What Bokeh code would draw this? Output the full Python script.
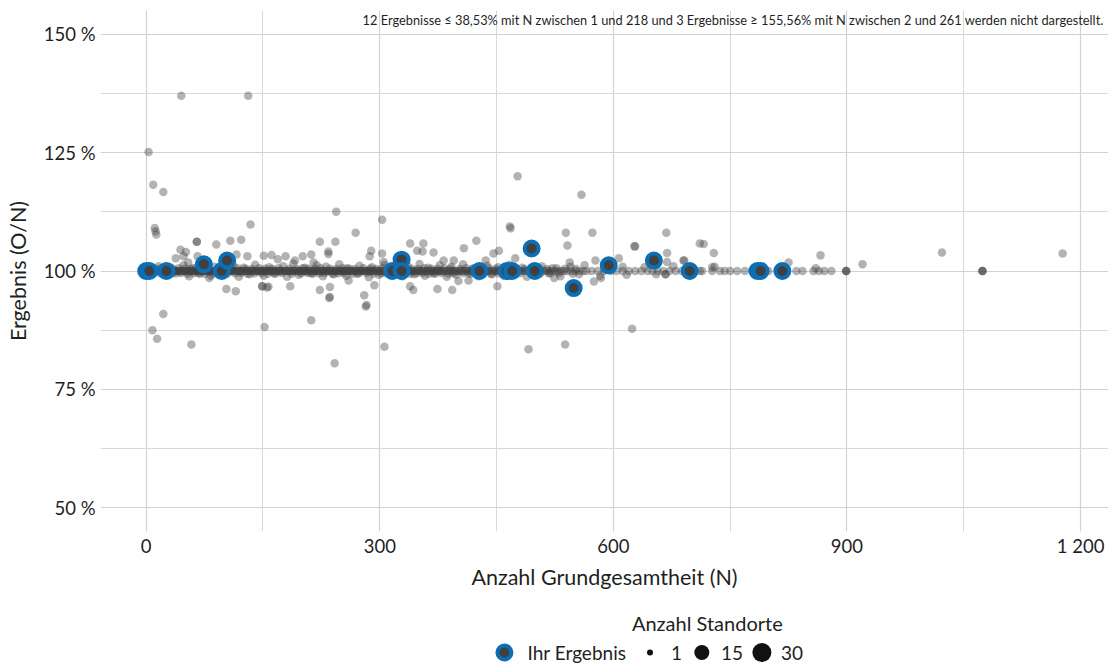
from bokeh.plotting import figure
from bokeh.layouts import column
from bokeh.models import Range1d, SingleIntervalTicker, Label
from bokeh.embed import file_html
from bokeh.resources import INLINE
from bokeh.core.properties import value

FONT = "Lato"
TXT = "#1f1f1f"

# ---------------- data ----------------
x_ticks = [0, 300, 600, 900, 1200]
x_tick_labels = ["0", "300", "600", "900", "1 200"]
y_ticks = [50, 75, 100, 125, 150]
y_tick_labels = ["50 %", "75 %", "100 %", "125 %", "150 %"]

# gray points lying exactly on 100 %
band_n = [1, 2, 3, 4, 6, 7, 8, 10, 11, 13, 14, 15, 17, 18, 20, 21, 23, 24, 26, 27, 29, 30, 32, 33,
          35, 36, 38, 40, 41, 43, 44, 46, 47, 49, 51, 52, 54, 55, 57, 58, 60, 62, 63, 65, 66, 68,
          70, 71, 73, 74, 76, 78, 79, 81, 82, 84, 86, 87, 89, 90, 92, 94, 95, 97, 98, 100, 102,
          103, 105, 107, 108, 110, 111, 113, 115, 116, 118, 120, 121, 123, 124, 126, 128, 129,
          131, 133, 134, 136, 137, 139, 141, 142, 144, 146, 147, 149, 150, 152, 154, 155, 157,
          159, 160, 162, 163, 165, 167, 168, 170, 172, 173, 175, 177, 178, 180, 181, 183, 185,
          186, 188, 190, 191, 193, 195, 196, 198, 200, 201, 203, 205, 206, 208, 210, 211, 213,
          215, 216, 218, 220, 221, 223, 225, 226, 228, 230, 232, 233, 235, 237, 238, 240, 242,
          243, 245, 247, 249, 250, 252, 254, 255, 257, 259, 261, 262, 264, 266, 268, 269, 271,
          273, 275, 276, 278, 280, 282, 284, 285, 287, 289, 291, 292, 294, 296, 298, 300, 301,
          303, 305, 307, 309, 310, 312, 314, 316, 318, 320, 322, 323, 325, 327, 329, 331, 333,
          335, 337, 338, 340, 342, 344, 346, 348, 350, 352, 354, 356, 358, 360, 362, 364, 366,
          368, 370, 372, 374, 376, 378, 380, 382, 384, 387, 389, 391, 393, 395, 397, 400, 402,
          404, 406, 409, 411, 413, 416, 418, 420, 423, 425, 428, 430, 432, 435, 437, 440, 442,
          445, 448, 450, 453, 455, 458, 461, 464, 466, 469, 472, 475, 478, 481, 484, 487, 490,
          493, 496, 500, 503, 506, 510, 514, 517, 521, 525, 529, 533, 537, 541, 546, 551, 556,
          561, 565, 572, 580, 588, 597, 604, 612, 620, 628, 636, 644, 650, 657, 664, 672, 680,
          688, 695, 703, 711, 714, 727, 737, 743, 750, 759, 769, 799, 835, 843, 857, 864, 871,
          880, 899, 899, 899, 1074, 1074, 1074]
band_pct = [100.0] * len(band_n)

# gray points hugging the 100 % line (thick part of the band)
hug_hi_n = [5, 12, 19, 27, 35, 42, 50, 57, 64, 72, 80, 93, 101, 109, 117, 128, 136, 145, 153, 162,
            170, 184, 193, 201, 209, 217, 224, 236, 244, 252, 261, 268, 279, 288, 296, 304, 313,
            326, 334, 341, 349, 357, 366, 374, 383, 391, 403, 411, 419, 431, 440, 449, 458, 466,
            476, 486, 496, 505, 515, 527, 538, 552]
hug_hi_pct = [100.5, 100.4, 100.6, 100.5, 100.4, 100.6, 100.5, 100.4, 100.6, 100.5, 100.4, 100.6,
              100.5, 100.4, 100.6, 100.5, 100.4, 100.6, 100.5, 100.4, 100.6, 100.5, 100.4, 100.6,
              100.5, 100.4, 100.6, 100.5, 100.4, 100.6, 100.5, 100.4, 100.6, 100.5, 100.4, 100.6,
              100.5, 100.4, 100.6, 100.5, 100.4, 100.6, 100.5, 100.4, 100.6, 100.5, 100.4, 100.6,
              100.5, 100.4, 100.6, 100.5, 100.4, 100.6, 100.5, 100.4, 100.6, 100.5, 100.4, 100.6,
              100.5, 100.4]
hug_lo_n = [9, 17, 25, 34, 45, 53, 61, 67, 75, 85, 91, 104, 114, 122, 130, 139, 148, 156, 164, 174,
            187, 199, 207, 214, 222, 229, 239, 247, 254, 265, 273, 283, 292, 302, 308, 318, 324,
            332, 339, 347, 355, 363, 369, 379, 388, 395, 407, 417, 424, 434, 443, 452, 462, 471,
            480, 494, 506, 519, 530, 548]
hug_lo_pct = [99.5, 99.6, 99.4, 99.5, 99.6, 99.4, 99.5, 99.6, 99.4, 99.5, 99.6, 99.4, 99.5, 99.6,
              99.4, 99.5, 99.6, 99.4, 99.5, 99.6, 99.4, 99.5, 99.6, 99.4, 99.5, 99.6, 99.4, 99.5,
              99.6, 99.4, 99.5, 99.6, 99.4, 99.5, 99.6, 99.4, 99.5, 99.6, 99.4, 99.5, 99.6, 99.4,
              99.5, 99.6, 99.4, 99.5, 99.6, 99.4, 99.5, 99.6, 99.4, 99.5, 99.6, 99.4, 99.5, 99.6,
              99.4, 99.5, 99.6, 99.4]

# gray points just above / below 100 %
near_n = [16, 31, 48, 60, 77, 88, 112, 125, 140, 158, 176, 189, 204, 219, 231, 248, 258, 274,
          290, 306, 320, 336, 351, 362, 377, 392, 407, 421, 438, 452, 467, 483, 508, 522, 545,
          563, 590, 612, 640, 677, 730, 815,
          22, 39, 55, 69, 83, 97, 119, 133, 151, 166, 181, 196, 212, 227, 241, 257, 271, 286,
          299, 314, 329, 344, 358, 371, 386, 398, 414, 427, 444, 459, 474, 489, 502, 517, 532,
          556, 583, 617, 655, 667, 700]
near_pct = [101.0, 100.8, 101.2, 100.6, 101.5, 100.9, 101.1, 100.7, 101.3, 100.8, 101.0, 101.6,
            100.7, 101.2, 100.9, 101.4, 100.6, 101.1, 100.8, 101.3, 100.6, 101.0, 101.5, 100.7,
            101.2, 100.9, 101.4, 100.6, 101.1, 100.8, 101.3, 100.7, 101.0, 100.6, 100.9, 101.2,
            100.7, 100.9, 100.8, 101.0, 100.9, 100.6,
            99.2, 99.5, 98.9, 99.4, 99.0, 99.5, 98.8, 99.3, 99.0, 99.4, 98.8, 99.2, 99.5, 98.9,
            99.3, 99.0, 99.4, 98.7, 99.2, 99.5, 98.9, 99.3, 99.0, 99.4, 98.8, 99.2, 99.5, 98.9,
            99.3, 99.0, 99.4, 98.8, 99.2, 99.5, 98.9, 99.3, 99.0, 99.2, 99.3, 99.3, 99.4]

# scattered gray results
out_n = [45, 131, 3, 9, 22, 11, 12, 13, 134, 244, 303, 477, 559, 539, 668, 467, 716, 729, 627,
         1022, 920, 1177, 866, 825, 691, 727, 860,
         44, 65, 65, 54, 66, 90, 108, 122, 116, 130, 151, 161, 169, 179, 191, 201, 212, 215, 223,
         243, 234, 234, 269, 289, 287, 303, 305, 38, 48, 51,
         339, 356, 348, 355, 369, 408, 424, 382, 395, 436, 446, 453, 468, 474, 541, 544, 573, 577,
         628, 607, 669, 669, 690, 711,
         8, 14, 22, 58, 152, 212, 235, 282, 242, 306, 491, 538, 624,
         103, 115, 81, 149, 149, 185, 223, 236, 236, 260, 280, 283, 293, 339, 343, 155, 157,
         374, 393, 401, 414, 451, 524, 575, 584, 667]
out_pct = [137.0, 137.0, 125.1, 118.2, 116.7, 109.1, 108.4, 107.7, 109.8, 112.5, 110.8, 120.0,
           116.1, 108.1, 108.1, 109.4, 105.7, 103.8, 105.2, 103.9, 101.4, 103.7, 103.3, 101.8,
           102.2, 100.8, 100.6,
           104.5, 106.2, 106.2, 101.8, 103.1, 105.6, 106.4, 106.6, 103.5, 103.1, 103.2, 103.4,
           102.5, 103.1, 102.2, 103.1, 103.5, 101.8, 106.2, 106.2, 104.1, 103.6, 108.1, 104.3,
           103.1, 103.7, 101.9, 102.7, 103.1, 104.0,
           105.8, 105.8, 104.3, 104.1, 103.9, 104.8, 106.4, 102.2, 102.2, 102.2, 103.7, 104.3,
           109.0, 102.7, 105.4, 101.8, 108.1, 102.2, 105.2, 102.7, 103.8, 101.9, 102.2, 105.8,
           87.5, 85.7, 90.9, 84.5, 88.2, 89.6, 94.3, 92.5, 80.5, 84.0, 83.5, 84.5, 87.8,
           96.2, 95.7, 98.5, 96.8, 96.8, 96.8, 96.0, 96.6, 94.5, 98.0, 94.9, 92.8, 97.0, 96.8,
           96.0, 96.5, 96.7,
           96.2, 96.0, 97.9, 98.0, 96.8, 98.5, 97.8, 98.5, 99.3]

# "Ihr Ergebnis" (own results)
own_n = [0, 4, 26, 74, 97, 104, 316, 328, 328, 428, 463, 470, 495, 499, 549, 594, 652, 698,
         785, 789, 817]
own_pct = [100.0, 100.0, 100.0, 101.4, 100.0, 102.2, 100.0, 102.4, 100.0, 100.0, 100.0, 100.0,
           104.75, 100.0, 96.4, 101.2, 102.2, 100.0, 100.0, 100.0, 100.0]

note = ("12 Ergebnisse \u2264 38,53% mit N zwischen 1 und 218 und 3 Ergebnisse \u2265 155,56% "
        "mit N zwischen 2 und 261 werden nicht dargestellt.")

legend_title = "Anzahl Standorte"
legend_labels = ["Ihr Ergebnis", "1", "15", "30"]
legend_sizes = [6, 15, 19]

# ---------------- main plot ----------------
p = figure(width=1108, height=592, output_backend="svg", toolbar_location=None,
           x_range=Range1d(-58.7, 1235.9), y_range=Range1d(45, 155),
           min_border_left=100, min_border_right=0, min_border_top=10, min_border_bottom=57)
p.outline_line_color = None

p.xaxis.ticker = SingleIntervalTicker(interval=300, num_minor_ticks=2)
p.yaxis.ticker = SingleIntervalTicker(interval=25, num_minor_ticks=2)
p.xaxis.major_label_overrides = dict(zip(x_ticks, x_tick_labels))
p.yaxis.major_label_overrides = dict(zip(y_ticks, y_tick_labels))

for ax in (p.xaxis, p.yaxis):
    ax.axis_line_color = None
    ax.major_tick_line_color = None
    ax.minor_tick_line_color = None
    ax.major_tick_out = 0
    ax.major_tick_in = 0
    ax.minor_tick_out = 0
    ax.minor_tick_in = 0
    ax.major_label_text_font = FONT
    ax.major_label_text_font_size = "18.5px"
    ax.major_label_text_color = TXT
    ax.axis_label_text_font = FONT
    ax.axis_label_text_font_size = "21.5px"
    ax.axis_label_text_font_style = "normal"
    ax.axis_label_text_color = TXT

p.xaxis.axis_label = "Anzahl Grundgesamtheit (N)"
p.yaxis.axis_label = "Ergebnis (O/N)"
p.xaxis.major_label_standoff = 3
p.xaxis.axis_label_standoff = 4
p.yaxis.major_label_standoff = 5
p.yaxis.axis_label_standoff = 10

for g in (p.xgrid, p.ygrid):
    g.grid_line_color = "#d2d2d2"
    g.grid_line_width = 1.2
    g.minor_grid_line_color = "#d9d9d9"
    g.minor_grid_line_width = 1

gray_n = band_n + hug_hi_n + hug_lo_n + near_n + out_n
gray_pct = band_pct + hug_hi_pct + hug_lo_pct + near_pct + out_pct
p.scatter(x=gray_n, y=gray_pct, size=8.5, fill_color="#404040", fill_alpha=0.4, line_color=None)
p.scatter(x=own_n, y=own_pct, size=14, fill_color="#404040", line_color="#0c6eb5", line_width=4)

p.add_layout(Label(x=p.x_range.end, y=p.y_range.end, text=note, text_align="right",
                   text_baseline="top", x_offset=-5, y_offset=-1, text_font=FONT,
                   text_font_size="12.8px", text_color=TXT))

# ---------------- legend strip ----------------
lg = figure(width=1108, height=74, output_backend="svg", toolbar_location=None,
            x_range=Range1d(0, 1108), y_range=Range1d(666, 592),
            x_axis_type=None, y_axis_type=None, min_border=0)
lg.outline_line_color = None
lg.grid.visible = False

lg.text(x=[667], y=[622], text=[legend_title], text_align="center", text_baseline="middle",
        text_font=value(FONT), text_font_size="20px", text_color=TXT)
lg.scatter(x=[444], y=[652], size=14, fill_color="#404040", line_color="#0c6eb5", line_width=4)
lg.scatter(x=[604, 661, 727], y=[652, 652, 652], size=legend_sizes, fill_color="#111111",
           line_color=None)
lg.text(x=[578], y=[652], text=legend_labels[:1], text_align="right",
        text_baseline="middle", text_font=value(FONT), text_font_size="19px", text_color=TXT)
lg.text(x=[627, 682, 748], y=[652, 652, 652], text=legend_labels[1:], text_align="left",
        text_baseline="middle", text_font=value(FONT), text_font_size="19px", text_color=TXT)

layout = column(p, lg, spacing=0)
open("out.html", "w").write(file_html(layout, INLINE))
